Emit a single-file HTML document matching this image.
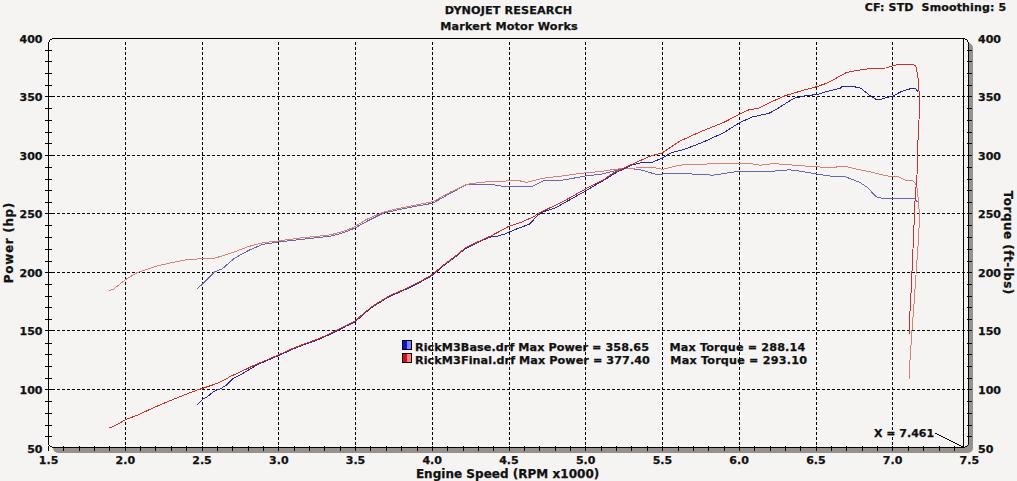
<!DOCTYPE html><html><head><meta charset="utf-8"><style>html,body{margin:0;padding:0;background:#f5f4f3;}svg{display:block}text{font-family:'DejaVu Sans', 'Liberation Sans', sans-serif;font-weight:bold;fill:#111;stroke:#111;stroke-width:0.25px;}</style></head><body>
<svg width="1017" height="481" viewBox="0 0 1017 481">
<rect width="1017" height="481" fill="#f5f4f3"/>
<rect x="53" y="43" width="920" height="410" rx="5" fill="#97918e"/>
<rect x="49" y="39" width="919" height="408" fill="#f5f4f3" shape-rendering="crispEdges"/>
<rect x="967" y="446" width="1" height="1" fill="#97918e" shape-rendering="crispEdges"/>
<path d="M125.5 42V447M202.5 42V447M278.5 42V447M355.5 42V447M432.5 42V447M509.5 42V447M585.5 42V447M662.5 42V447M739.5 42V447M816.5 42V447M892.5 42V447M52 389.5H967M52 330.5H967M52 272.5H967M52 213.5H967M52 155.5H967M52 96.5H967" stroke="#000" stroke-width="1" stroke-dasharray="3 2" fill="none" shape-rendering="crispEdges"/>
<path d="M45 436.5H52M967 436.5H972M45 425.5H52M967 425.5H972M45 413.5H52M967 413.5H972M45 401.5H52M967 401.5H972M45 389.5H55M967 389.5H972M45 378.5H52M967 378.5H972M45 366.5H52M967 366.5H972M45 354.5H52M967 354.5H972M45 343.5H52M967 343.5H972M45 330.5H55M967 330.5H972M45 319.5H52M967 319.5H972M45 307.5H52M967 307.5H972M45 296.5H52M967 296.5H972M45 284.5H52M967 284.5H972M45 272.5H55M967 272.5H972M45 261.5H52M967 261.5H972M45 249.5H52M967 249.5H972M45 237.5H52M967 237.5H972M45 225.5H52M967 225.5H972M45 213.5H55M967 213.5H972M45 202.5H52M967 202.5H972M45 190.5H52M967 190.5H972M45 179.5H52M967 179.5H972M45 167.5H52M967 167.5H972M45 155.5H55M967 155.5H972M45 143.5H52M967 143.5H972M45 132.5H52M967 132.5H972M45 120.5H52M967 120.5H972M45 108.5H52M967 108.5H972M45 96.5H55M967 96.5H972M45 85.5H52M967 85.5H972M45 73.5H52M967 73.5H972M45 61.5H52M967 61.5H972M45 50.5H52M967 50.5H972M48.5 446V451M63.5 446V451M79.5 446V451M94.5 446V451M109.5 446V451M125.5 446V451M140.5 446V451M155.5 446V451M171.5 446V451M186.5 446V451M202.5 446V451M217.5 446V451M232.5 446V451M248.5 446V451M263.5 446V451M278.5 446V451M294.5 446V451M309.5 446V451M324.5 446V451M340.5 446V451M355.5 446V451M370.5 446V451M386.5 446V451M401.5 446V451M417.5 446V451M432.5 446V451M447.5 446V451M463.5 446V451M478.5 446V451M493.5 446V451M509.5 446V451M524.5 446V451M539.5 446V451M555.5 446V451M570.5 446V451M585.5 446V451M601.5 446V451M616.5 446V451M631.5 446V451M647.5 446V451M662.5 446V451M678.5 446V451M693.5 446V451M708.5 446V451M724.5 446V451M739.5 446V451M754.5 446V451M770.5 446V451M785.5 446V451M800.5 446V451M816.5 446V451M831.5 446V451M846.5 446V451M862.5 446V451M877.5 446V451M892.5 446V451M908.5 446V451M923.5 446V451M939.5 446V451M954.5 446V451" stroke="#000" stroke-width="1" fill="none" shape-rendering="crispEdges"/>
<path d="M52 38h913v1h-913zM52 447h913v1h-913zM48 42h1v403h-1zM968 42h1v403h-1zM50 39h2v1h-2zM49 40h1v2h-1zM965 39h2v1h-2zM967 40h1v2h-1zM49 445h1v1h-1zM50 446h2v1h-2zM967 445h1v1h-1zM965 446h2v1h-2z" fill="#000" shape-rendering="crispEdges"/>
<path d="M197.3 288.4 L202.5 284.2 L215.0 271.7 L222.4 268.8 L234.2 258.4 L249.0 250.2 L262.5 244.4 L278.5 242.0 L302.0 239.3 L322.8 237.0 L330.0 236.2 L339.4 233.8 L349.4 230.4 L355.6 227.6 L366.4 221.6 L383.0 213.3 L395.5 210.3 L416.3 206.2 L432.5 203.3 L450.0 193.5 L466.6 184.6 L491.6 184.3 L506.1 187.0 L520.0 186.4 L530.8 187.0 L544.3 180.3 L557.8 181.0 L576.8 177.6 L585.5 176.0 L601.0 174.2 L614.6 170.8 L622.6 169.0 L622.6 168.7 L637.1 169.1 L645.0 171.0 L656.6 174.6 L667.0 173.6 L692.0 174.0 L712.8 175.2 L739.8 171.1 L764.7 171.9 L789.7 169.8 L802.2 171.5 L816.7 174.0 L831.2 176.2 L845.0 176.6 L859.9 182.4 L867.4 187.4 L876.1 196.8 L882.3 198.4 L914.6 198.6 L917.5 202.0" stroke="#6868ae" stroke-width="1" fill="none" stroke-linejoin="round" shape-rendering="crispEdges"/>
<path d="M109.1 290.4 L113.3 289.4 L125.6 279.5 L136.9 272.7 L159.0 265.4 L188.5 259.2 L202.5 258.9 L215.0 258.1 L232.7 252.5 L249.0 246.4 L262.5 242.8 L278.5 240.9 L302.0 237.8 L322.8 235.7 L330.0 234.9 L339.4 232.5 L349.4 229.1 L355.6 226.3 L366.4 219.5 L383.0 212.2 L395.5 209.1 L416.3 205.0 L432.5 201.8 L450.0 192.3 L466.6 184.3 L481.2 182.2 L509.7 180.8 L520.0 180.9 L526.8 182.3 L543.0 178.2 L560.5 176.2 L579.5 173.5 L585.5 172.8 L601.0 171.5 L614.6 169.2 L622.6 168.7 L622.6 168.7 L645.0 167.5 L652.5 167.3 L662.9 169.4 L679.5 165.2 L692.0 164.2 L739.8 163.6 L748.1 163.2 L760.6 165.2 L773.0 163.6 L789.7 164.8 L816.7 166.9 L832.5 167.4 L845.0 166.2 L857.4 169.3 L872.4 172.2 L886.1 175.9 L898.3 176.5 L905.8 180.4 L912.5 180.4 L916.2 184.6 L917.1 188.3 L918.5 202.0 L919.4 215.0 L918.8 235.0 L917.0 260.0 L914.3 300.0 L912.0 330.0 L910.0 360.0 L909.0 379.0" stroke="#d98176" stroke-width="1" fill="none" stroke-linejoin="round" shape-rendering="crispEdges"/>
<path d="M197.3 404.7 L202.8 399.3 L207.3 396.7 L212.4 392.6 L216.2 390.1 L220.0 389.0 L226.4 385.2 L233.1 378.6 L242.5 373.6 L254.9 366.1 L260.0 363.4 L267.4 360.4 L278.4 355.6 L292.3 349.4 L304.8 344.4 L317.3 340.0 L330.0 334.3 L337.8 330.5 L346.0 326.2 L355.5 321.5 L363.8 314.0 L372.0 307.3 L384.0 299.8 L390.8 295.8 L397.6 293.1 L411.0 287.0 L420.0 282.3 L432.4 275.3 L443.5 265.7 L457.0 255.6 L465.1 248.8 L474.6 244.1 L484.0 239.7 L489.5 237.3 L497.6 236.0 L505.7 233.9 L509.5 231.9 L517.8 228.5 L529.5 224.2 L537.6 215.4 L544.3 211.4 L555.1 208.0 L567.3 201.2 L576.8 195.8 L585.5 191.1 L593.0 186.4 L603.8 180.3 L614.6 173.5 L620.0 170.5 L622.6 169.8 L633.0 164.6 L641.3 162.8 L652.5 162.1 L662.5 158.0 L671.2 152.8 L683.7 149.6 L702.4 142.4 L723.2 133.0 L739.8 122.6 L752.3 117.0 L768.9 113.3 L775.1 110.1 L793.8 98.3 L806.3 95.6 L816.7 94.6 L827.1 91.4 L840.0 88.3 L842.6 86.2 L851.4 86.0 L860.8 88.3 L866.0 92.4 L871.2 96.6 L875.9 99.2 L881.6 99.2 L887.8 97.1 L892.7 96.6 L899.2 92.5 L905.0 90.4 L911.7 88.3 L915.4 88.3 L917.9 91.7" stroke="#2a2a90" stroke-width="1" fill="none" stroke-linejoin="round" shape-rendering="crispEdges"/>
<path d="M109.5 428.0 L117.8 424.2 L125.5 419.7 L137.0 415.3 L149.7 409.5 L162.5 403.8 L175.3 398.6 L188.1 393.5 L197.0 390.1 L202.4 388.4 L217.5 383.3 L226.4 378.8 L230.0 376.6 L242.5 370.9 L254.9 364.9 L267.4 359.7 L278.4 354.9 L292.3 348.7 L304.8 343.7 L317.3 339.3 L330.0 333.6 L337.8 329.8 L346.0 325.5 L355.5 320.7 L363.8 313.2 L372.0 306.5 L384.0 299.0 L390.8 295.0 L397.6 292.3 L411.0 286.2 L420.0 281.5 L432.4 274.5 L443.5 265.0 L457.0 254.9 L465.1 248.1 L474.6 243.4 L484.0 239.0 L490.8 236.0 L500.3 231.0 L508.4 226.5 L513.8 224.7 L520.0 222.8 L533.5 216.8 L540.3 212.4 L553.8 206.0 L567.3 199.2 L576.8 193.8 L585.5 189.0 L594.3 184.3 L603.8 179.6 L614.6 172.2 L620.0 170.1 L622.6 168.7 L637.1 162.0 L650.0 156.2 L662.5 152.8 L679.5 141.3 L702.4 130.9 L723.2 122.6 L739.8 114.3 L748.1 110.1 L758.5 108.1 L768.9 102.9 L785.5 95.6 L806.3 89.4 L816.7 86.7 L827.1 83.1 L833.3 80.0 L840.0 76.0 L846.2 72.7 L855.6 70.6 L871.2 68.5 L885.7 68.0 L892.7 65.9 L898.2 64.4 L907.6 64.9 L912.8 64.1 L915.9 66.4 L917.4 73.7 L918.5 81.0 L919.3 96.6 L919.0 120.0 L917.5 150.0 L916.8 185.0 L915.7 188.0 L915.0 201.0 L913.4 240.0 L910.7 300.0 L909.5 320.0 L909.0 335.0" stroke="#c8322d" stroke-width="1" fill="none" stroke-linejoin="round" shape-rendering="crispEdges"/>
<path d="M963.5 39V447" stroke="#000" stroke-width="1" fill="none" shape-rendering="crispEdges"/><path d="M935 433L963 447" stroke="#000" stroke-width="1" fill="none" shape-rendering="crispEdges"/>
<text x="42.5" y="452.5" font-size="11" text-anchor="end">50</text>
<text x="978" y="452.5" font-size="11">50</text>
<text x="42.5" y="394" font-size="11" text-anchor="end">100</text>
<text x="978" y="394" font-size="11">100</text>
<text x="42.5" y="335" font-size="11" text-anchor="end">150</text>
<text x="978" y="335" font-size="11">150</text>
<text x="42.5" y="277" font-size="11" text-anchor="end">200</text>
<text x="978" y="277" font-size="11">200</text>
<text x="42.5" y="218" font-size="11" text-anchor="end">250</text>
<text x="978" y="218" font-size="11">250</text>
<text x="42.5" y="160" font-size="11" text-anchor="end">300</text>
<text x="978" y="160" font-size="11">300</text>
<text x="42.5" y="101" font-size="11" text-anchor="end">350</text>
<text x="978" y="101" font-size="11">350</text>
<text x="42.5" y="43" font-size="11" text-anchor="end">400</text>
<text x="978" y="43" font-size="11">400</text>
<text x="48.6" y="464" font-size="11" text-anchor="middle">1.5</text>
<text x="125.3" y="464" font-size="11" text-anchor="middle">2.0</text>
<text x="202.0" y="464" font-size="11" text-anchor="middle">2.5</text>
<text x="278.8" y="464" font-size="11" text-anchor="middle">3.0</text>
<text x="355.5" y="464" font-size="11" text-anchor="middle">3.5</text>
<text x="432.2" y="464" font-size="11" text-anchor="middle">4.0</text>
<text x="508.9" y="464" font-size="11" text-anchor="middle">4.5</text>
<text x="585.7" y="464" font-size="11" text-anchor="middle">5.0</text>
<text x="662.4" y="464" font-size="11" text-anchor="middle">5.5</text>
<text x="739.1" y="464" font-size="11" text-anchor="middle">6.0</text>
<text x="815.9" y="464" font-size="11" text-anchor="middle">6.5</text>
<text x="892.6" y="464" font-size="11" text-anchor="middle">7.0</text>
<text x="969.3" y="464" font-size="11" text-anchor="middle">7.5</text>
<text x="508.5" y="13.8" font-size="11.2" text-anchor="middle" textLength="127.4" lengthAdjust="spacing" id="t1">DYNOJET RESEARCH</text>
<text x="509" y="29.6" font-size="11.2" text-anchor="middle" textLength="137.4" lengthAdjust="spacing" id="t2">Markert Motor Works</text>
<text x="1006.2" y="10.7" font-size="11" text-anchor="end" textLength="141.4" lengthAdjust="spacing" id="cf" xml:space="preserve">CF: STD  Smoothing: 5</text>
<text x="507.6" y="477.8" font-size="12" text-anchor="middle" textLength="183.4" lengthAdjust="spacing" id="es">Engine Speed (RPM x1000)</text>
<text transform="translate(12.7 242.9) rotate(-90)" font-size="12" text-anchor="middle" textLength="80.5" lengthAdjust="spacing" id="pw">Power (hp)</text>
<text transform="translate(1004.2 242.55) rotate(90)" font-size="12" text-anchor="middle" textLength="103.6" lengthAdjust="spacing" id="tq">Torque (ft-lbs)</text>
<text x="874" y="437" font-size="11" id="xl">X = 7.461</text>
<defs><linearGradient id="gb" x1="0" x2="1"><stop offset="0.5" stop-color="#1010d0"/><stop offset="0.5" stop-color="#8080ff"/></linearGradient><linearGradient id="gr" x1="0" x2="1"><stop offset="0.5" stop-color="#d01010"/><stop offset="0.5" stop-color="#ff8080"/></linearGradient></defs>
<rect x="402.5" y="340.5" width="9" height="9" fill="url(#gb)" stroke="#000"/>
<rect x="402.5" y="353.5" width="9" height="9" fill="url(#gr)" stroke="#000"/>
<text x="415" y="350.5" font-size="11.2" textLength="234.0" lengthAdjust="spacing" id="l1a">RickM3Base.drf Max Power = 358.65</text>
<text x="669.5" y="350.5" font-size="11.2" textLength="135.7" lengthAdjust="spacing" id="l1b">Max Torque = 288.14</text>
<text x="415" y="363.5" font-size="11.2" textLength="234.9" lengthAdjust="spacing" id="l2a">RickM3Final.drf Max Power = 377.40</text>
<text x="670.3" y="363.5" font-size="11.2" textLength="136.7" lengthAdjust="spacing" id="l2b">Max Torque = 293.10</text>
</svg></body></html>
